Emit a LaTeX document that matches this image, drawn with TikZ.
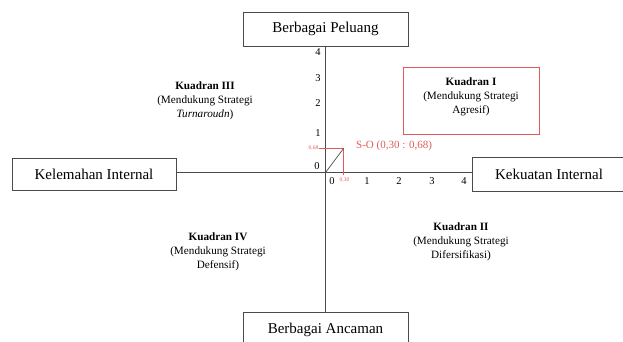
\documentclass[tikz,border=0pt]{standalone}
\usepackage{fontspec}
\setmainfont{Liberation Serif}
\definecolor{axisgray}{HTML}{4A4A4A}
\definecolor{soRed}{HTML}{E05A5A}
\begin{document}
\begin{tikzpicture}[x=1pt,y=-1pt,
  bigbox/.style={draw=axisgray,line width=0.9pt,fill=white,minimum height=34pt,inner sep=0pt,font=\fontsize{15}{17}\selectfont},
  tick/.style={font=\fontsize{10.5}{12}\selectfont,inner sep=0pt},
  quad/.style={align=center,font=\fontsize{11.2}{14.2}\selectfont,inner sep=0pt},
  tiny/.style={text=soRed,font=\fontsize{5.5}{6}\selectfont,inner sep=0pt}]
\useasboundingbox (0,0) rectangle (623,341);
\clip (0,0) rectangle (623,341);
\coordinate (O) at (325.5,172.5);
% boxes
\node[bigbox,minimum width=165pt] (P) at (325.5,29) {Berbagai Peluang};
\node[bigbox,minimum width=165pt,minimum height=38pt] (A) at (325.5,331) {\raisebox{6pt}{Berbagai Ancaman}};
\node[bigbox,minimum width=164pt,minimum height=32pt] (KL) at (94,174) {Kelemahan Internal};
\node[bigbox,minimum width=164pt] (KU) at (554,174) {\hspace*{-10pt}Kekuatan Internal};
% axes
\draw[axisgray,line width=0.9pt] (P.south) -- (A.north);
\draw[axisgray,line width=0.9pt] (KL.east |- O) -- (KU.west |- O);
% ticks
\node[tick] (x0) at (332,181) {0};
\node[tick] (x1) at (367,181) {1};
\node[tick] (x2) at (399,181) {2};
\node[tick] (x3) at (432,181) {3};
\node[tick] (x4) at (464,181) {4};
\node[tick] (y0) at (317,166) {0};
\node[tick] (y1) at (318,133) {1};
\node[tick] (y2) at (318,103) {2};
\node[tick] (y3) at (318,78) {3};
\node[tick] (y4) at (318,52) {4};
% S-O point
\coordinate (SO) at (343.5,148.5);
\coordinate (SOx) at (343.5,174.5);
\node[tiny,anchor=east] (l68) at (318.5,148.5) {0,68};
\draw[soRed,line width=0.7pt] (l68.east) -- (SO) -- (SOx);
\draw[axisgray,line width=0.7pt] (O) -- (SO);
\node[tiny] (l30) at (344.5,180.5) {0,30};
\node[text=soRed,font=\fontsize{11}{13}\selectfont,inner sep=0pt,anchor=west] (SOlab) at (356,146) {S-O (0,30 : 0,68)};
% quadrant I
\node[draw=soRed,line width=0.9pt,minimum width=136pt,minimum height=67pt,inner sep=0pt] (Q1box) at (471,100.5) {};
\node[quad] (Q1) at (471,97) {\textbf{Kuadran I}\\(Mendukung Strategi\\Agresif)};
\node[quad] (Q3) at (205,101) {\textbf{Kuadran III}\\(Mendukung Strategi\\\textit{Turnaroudn})};
\node[quad] (Q4) at (218,252) {\textbf{Kuadran IV}\\(Mendukung Strategi\\Defensif)};
\node[quad] (Q2) at (461,241.5) {\textbf{Kuadran II}\\(Mendukung Strategi\\Difersifikasi)};
\end{tikzpicture}
\end{document}
